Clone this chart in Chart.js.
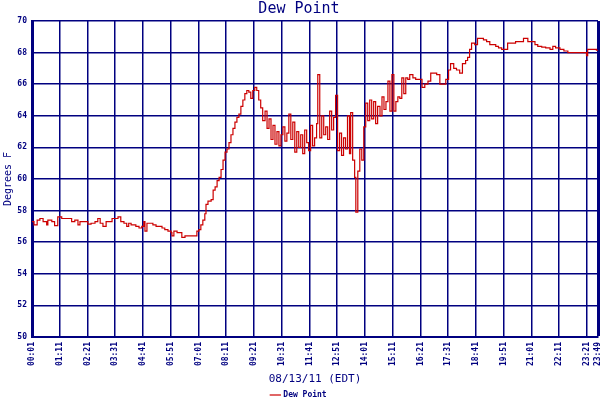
<!DOCTYPE html>
<html>
<head>
<meta charset="utf-8">
<script src="https://cdn.jsdelivr.net/npm/chart.js@4.4.1/dist/chart.umd.min.js"></script>
<style>
  html, body { margin: 0; padding: 0; background: #fff; }
  #wrap { width: 600px; height: 400px; }
</style>
</head>
<body>
<div id="wrap"><canvas id="dewChart"></canvas></div>
<script>
// minutes since midnight, 08/13/11
const sampleMinutes = [
  1, 6, 14, 21, 29, 38, 41, 51, 58, 66, 76, 91, 101, 109, 117, 122, 134, 142, 150, 160,
  167, 173, 180, 188, 195, 203, 211, 218, 225, 233, 240, 245, 251,
  256, 263, 271, 278, 283, 286, 291, 299, 306, 314, 321, 329, 336, 344, 352, 354, 359,
  367, 374, 379, 387, 395, 402, 410, 417, 422, 427, 432, 437, 440, 445, 453, 458, 463,
  468, 473, 478, 483, 488, 493, 498, 503, 508, 513, 518, 523, 528, 533, 538, 543, 548,
  553, 558, 563, 568, 573, 578, 583, 589, 594, 599, 604, 609, 614, 619, 624, 629, 634,
  639, 644, 649, 654, 659, 664, 669, 674, 679, 684, 689, 694, 699, 704, 709, 714, 719,
  722, 727, 732, 737, 742, 747, 752, 757, 762, 767, 772, 777, 782, 787, 792, 797, 802,
  805, 810, 815, 818, 823, 828, 833, 838, 843, 848, 853, 858, 863, 868, 873, 879, 884,
  889, 894, 899, 904, 909, 914, 919, 924, 929, 934, 939, 944, 949, 954, 962, 969, 977,
  985, 992, 1000, 1007, 1015, 1022, 1030, 1037, 1045, 1052, 1057, 1065, 1072, 1080, 1087,
  1095, 1100, 1105, 1110, 1118, 1125, 1133, 1140, 1148, 1156, 1163, 1171, 1178, 1186,
  1193, 1201, 1211, 1221, 1231, 1241, 1252, 1262, 1270, 1277, 1287, 1297, 1308, 1315,
  1322, 1333, 1343, 1353, 1368, 1383, 1398, 1400, 1403, 1418, 1425, 1429
];
const dewPoint = [
  57.3, 57.1, 57.4, 57.5, 57.3, 57.1, 57.4, 57.3, 57.05, 57.6, 57.5, 57.5, 57.3, 57.4, 57.1, 57.3, 57.3, 57.15, 57.2, 57.3,
  57.5, 57.2, 57.0, 57.3, 57.3, 57.5, 57.5, 57.6, 57.3, 57.2, 57.0, 57.2, 57.1,
  57.1, 57.0, 56.9, 57.0, 57.3, 56.7, 57.2, 57.2, 57.1, 57.0, 57.0, 56.9, 56.8, 56.7, 56.6, 56.4, 56.7,
  56.6, 56.6, 56.3, 56.4, 56.4, 56.4, 56.4, 56.7, 56.8, 57.1, 57.4, 57.8, 58.4, 58.6, 58.7, 59.3, 59.5,
  59.9, 60.1, 60.6, 61.2, 61.7, 61.9, 62.3, 62.8, 63.2, 63.6, 63.9, 64.1, 64.6, 65.0, 65.4, 65.6, 65.5,
  65.1, 65.6, 65.8, 65.6, 65.0, 64.5, 63.7, 64.3, 63.2, 63.8, 62.5, 63.4, 62.2, 63.0, 62.1, 62.8, 63.3,
  62.4, 62.9, 64.1, 62.5, 63.6, 61.7, 63.0, 62.0, 62.8, 61.6, 63.1, 62.3, 61.8, 63.4, 62.1, 62.6, 63.5,
  66.6, 62.6, 64.0, 62.8, 63.3, 62.5, 64.3, 63.1, 63.9, 65.3, 61.8, 62.9, 61.5, 62.6, 61.9, 64.0, 61.6,
  64.2, 61.2, 60.1, 57.9, 60.5, 61.9, 61.2, 63.3, 64.8, 63.7, 65.0, 63.8, 64.9, 63.5, 64.6, 64.0, 65.2,
  64.4, 64.9, 66.2, 64.3, 66.6, 64.3, 64.9, 65.2, 65.1, 66.4, 65.4, 66.4, 66.3, 66.6, 66.4, 66.3, 66.3,
  65.8, 66.0, 66.2, 66.7, 66.7, 66.6, 66.0, 66.0, 66.3, 66.9, 67.3, 67.0, 66.9, 66.7, 67.3,
  67.5, 67.7, 68.2, 68.6, 68.5, 68.9, 68.9, 68.8, 68.7, 68.5, 68.5, 68.4, 68.3, 68.2,
  68.2, 68.6, 68.6, 68.7, 68.7, 68.9, 68.7, 68.7, 68.5, 68.4, 68.35, 68.3, 68.2, 68.4,
  68.3, 68.2, 68.1, 68.0, 68.0, 68.0, 68.0, 67.8, 68.2, 68.2, 68.15, 68.15
];
const tickLabels = [
  '00:01', '01:11', '02:21', '03:31', '04:41', '05:51', '07:01', '08:11', '09:21', '10:31', '11:41',
  '12:51', '14:01', '15:11', '16:21', '17:31', '18:41', '19:51', '21:01', '22:11', '23:21', '23:49'
];

const navy = '#000080';
const tickMinutes = tickLabels.map(function (t) {
  const p = t.split(':');
  return parseInt(p[0], 10) * 60 + parseInt(p[1], 10);
});
const points = sampleMinutes.map(function (m, i) { return { x: m, y: dewPoint[i] }; });

// push the legend down to the very bottom edge
const legendDown = {
  id: 'legendDown',
  afterLayout: function (chart) {
    if (chart.legend) {
      chart.legend.top += 9;
      chart.legend.bottom += 9;
    }
  }
};

const ctx = document.getElementById('dewChart').getContext('2d');
const dewChart = new Chart(ctx, {
  type: 'line',
  data: {
    datasets: [{
      label: 'Dew Point',
      data: points,
      borderColor: '#cc0000',
      backgroundColor: '#cc0000',
      borderWidth: 1.2,
      pointRadius: 0,
      stepped: true,
      fill: false
    }]
  },
  plugins: [legendDown],
  options: {
    responsive: true,
    maintainAspectRatio: false,
    animation: false,
    layout: { padding: { left: 0, right: 2, top: 0, bottom: 0 } },
    plugins: {
      title: {
        display: true,
        text: 'Dew Point',
        color: navy,
        font: { family: 'DejaVu Sans Mono', size: 15, weight: 'normal' },
        padding: { top: 0, bottom: 3 }
      },
      legend: {
        position: 'bottom',
        labels: {
          color: navy,
          font: { family: 'DejaVu Sans Mono', size: 8, weight: 'bold' },
          usePointStyle: true,
          pointStyle: 'line',
          boxWidth: 14,
          padding: 3
        }
      },
      tooltip: { enabled: false }
    },
    scales: {
      x: {
        type: 'linear',
        min: 1,
        max: 1429,
        afterBuildTicks: function (scale) {
          scale.ticks = tickMinutes.map(function (v) { return { value: v }; });
        },
        afterFit: function (scale) {
          scale.paddingLeft = 0;
          scale.paddingRight = 0;
          const lh = scale.chart.legend ? scale.chart.legend.height : 13;
          scale.height = 400 - 337 - lh;
        },
        ticks: {
          autoSkip: false,
          maxRotation: 90,
          minRotation: 90,
          padding: 5,
          color: navy,
          font: { family: 'DejaVu Sans Mono', size: 8, weight: 'bold' },
          callback: function (value, index) { return tickLabels[index]; }
        },
        grid: {
          color: navy,
          lineWidth: function (c) { return c.index === tickLabels.length - 1 ? 3 : 1.5; },
          drawTicks: false
        },
        border: { display: true, color: navy, width: 2 },
        title: {
          display: true,
          text: '08/13/11 (EDT)',
          color: navy,
          font: { family: 'DejaVu Sans Mono', size: 11 },
          padding: { top: 0, bottom: -7 }
        }
      },
      y: {
        min: 50,
        max: 70,
        afterFit: function (scale) {
          scale.width = 32;
          scale.paddingTop = 0;
          scale.paddingBottom = 0;
        },
        ticks: {
          stepSize: 2,
          padding: 5,
          color: navy,
          font: { family: 'DejaVu Sans Mono', size: 8, weight: 'bold' }
        },
        grid: {
          color: navy,
          lineWidth: 1.5,
          drawTicks: false
        },
        border: { display: true, color: navy, width: 3 },
        title: {
          display: true,
          text: 'Degrees F',
          color: navy,
          font: { family: 'DejaVu Sans Mono', size: 10 },
          padding: { top: 2, bottom: 0 }
        }
      }
    }
  }
});
</script>
</body>
</html>
